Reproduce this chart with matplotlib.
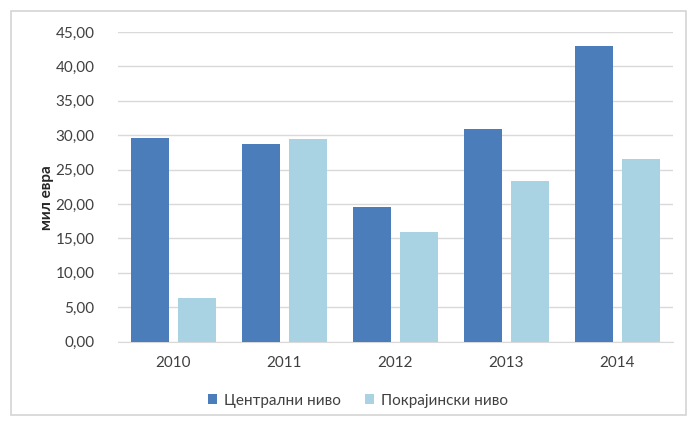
import matplotlib
matplotlib.use("Agg")
import matplotlib.pyplot as plt
import numpy as np
from matplotlib.patches import Rectangle

years = ["2010", "2011", "2012", "2013", "2014"]
central = [29.6, 28.7, 19.6, 30.9, 42.9]
provincial = [6.3, 29.5, 16.0, 23.4, 26.6]
series_names = ["Централни ниво", "Покрајински ниво"]
yticks = [0, 5, 10, 15, 20, 25, 30, 35, 40, 45]
ylabel = "мил евра"

plt.rcParams['font.family'] = ['Lato', 'DejaVu Sans']

W, H = 688, 421
fig = plt.figure(figsize=(W/100, H/100), dpi=100)
fig.patch.set_facecolor("white")

# outer chart border
fig.patches.append(Rectangle((11/W, 1-415/H), (686-11)/W, (415-11)/H,
                             transform=fig.transFigure, fill=False,
                             edgecolor="#d4d4d4", linewidth=1.2))

ax = fig.add_axes([118/W, 1-341.7/H, (673-118)/W, (341.7-32)/H])
x = np.arange(len(years))
bw = 0.335
gap = 0.09
c1 = "#4a7dba"
c2 = "#a9d3e3"
ax.bar(x - (bw+gap)/2, central, width=bw, color=c1, label=series_names[0], zorder=3)
ax.bar(x + (bw+gap)/2, provincial, width=bw, color=c2, label=series_names[1], zorder=3)

ax.set_xlim(-0.5, len(years)-0.5)
ax.set_ylim(0, 45)
ax.set_yticks(yticks)
ax.set_yticklabels([f"{v:.2f}".replace(".", ",") for v in yticks],
                   fontsize=11, color="#404040")
ax.set_xticks(x)
ax.set_xticklabels(years, fontsize=11, color="#404040")
ax.tick_params(axis='both', length=0)
ax.tick_params(axis='y', pad=17)
ax.tick_params(axis='x', pad=10)
ax.grid(axis='y', color="#d9d9d9", linewidth=1, zorder=0)
for s in ["top", "right", "left"]:
    ax.spines[s].set_visible(False)
ax.spines["bottom"].set_color("#d9d9d9")

fig.text(47/W, 1-198/H, ylabel, rotation=90, ha="center", va="center",
         fontsize=11, color="#262626", fontweight="bold")

leg = fig.legend(loc="center", bbox_to_anchor=(358/W, 1-400.5/H),
                 ncol=2, frameon=False, fontsize=11, handlelength=0.6,
                 handleheight=0.6, handletextpad=0.45, columnspacing=1.6,
                 borderaxespad=0, borderpad=0)
for t in leg.get_texts():
    t.set_color("#404040")

fig.savefig("out.png", dpi=100, facecolor="white")
